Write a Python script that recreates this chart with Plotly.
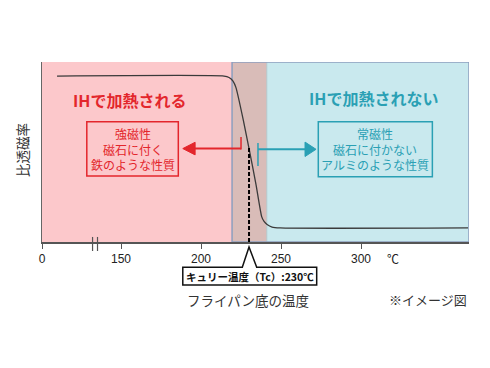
import plotly.graph_objects as go

# ---- data ----
temps = [110, 214.4, 217.5, 220.0, 221.9, 226.4, 230.2, 234.4, 237.9, 239.4, 241.3, 244.4, 249.4, 366.9]
permeability = [0.922, 0.922, 0.914, 0.894, 0.856, 0.678, 0.511, 0.317, 0.141, 0.114, 0.097, 0.083, 0.078, 0.078]
tick_vals = [100.6, 150, 200, 250, 300]
tick_text = ["0", "150", "200", "250", "300"]
curie_temp = 230
ferro_end = 219.4      # pink region end / blue region start
transition_end = 241.1  # brown overlap end
x_range = [100.6, 367.5]
break_marks = [132.2, 135.3]

JP = "Noto Sans CJK JP"
RED = "#e3262c"
TEAL = "#2aa0b4"

fig = go.Figure()
fig.add_trace(go.Scatter(x=temps, y=permeability, mode="lines",
                         line=dict(color="#3a3a3a", width=1.3, shape="spline", smoothing=0.5),
                         hoverinfo="skip", showlegend=False))

shapes = []
# regions
shapes.append(dict(type="rect", xref="x", yref="y", x0=x_range[0], x1=ferro_end, y0=0, y1=1,
                   fillcolor="#fcc8cb", line=dict(width=0), layer="below"))
shapes.append(dict(type="rect", xref="x", yref="y", x0=ferro_end, x1=x_range[1], y0=0, y1=1,
                   fillcolor="#c9e9ee", line=dict(width=0), layer="below"))
shapes.append(dict(type="rect", xref="x", yref="y", x0=ferro_end, x1=transition_end, y0=0, y1=1,
                   fillcolor="#d9bcb8", line=dict(width=0), layer="below"))
shapes.append(dict(type="line", xref="x", yref="y", x0=transition_end, x1=transition_end, y0=0, y1=1,
                   line=dict(color="#b9c8cc", width=1), layer="below"))
shapes.append(dict(type="rect", xref="x", yref="y", x0=ferro_end, x1=x_range[1], y0=0, y1=1,
                   fillcolor="rgba(0,0,0,0)", line=dict(color="#8d9fbf", width=1.5), layer="below"))

# text boxes
shapes.append(dict(type="rect", xref="x", yref="y", x0=128.6, x1=185.8, y0=0.367, y1=0.668,
                   line=dict(color=RED, width=1.5)))
shapes.append(dict(type="rect", xref="x", yref="y", x0=273.3, x1=344.6, y0=0.363, y1=0.668,
                   line=dict(color=TEAL, width=1.5)))

# red arrow
shapes.append(dict(type="line", xref="x", yref="y", x0=225.0, x1=225.0, y0=0.514, y1=0.583,
                   line=dict(color=RED, width=1.5)))
shapes.append(dict(type="line", xref="x", yref="y", x0=225.0, x1=195.0, y0=0.519, y1=0.519,
                   line=dict(color=RED, width=2)))
shapes.append(dict(type="path", xref="x", yref="y",
                   path="M 196.3,0.554 L 188.6,0.519 L 196.3,0.484 Z",
                   fillcolor=RED, line=dict(color=RED, width=1)))
# teal arrow
shapes.append(dict(type="line", xref="x", yref="y", x0=235.6, x1=235.6, y0=0.422, y1=0.55,
                   line=dict(color=TEAL, width=1.5)))
shapes.append(dict(type="line", xref="x", yref="y", x0=235.6, x1=265.5, y0=0.515, y1=0.515,
                   line=dict(color=TEAL, width=2)))
shapes.append(dict(type="path", xref="x", yref="y",
                   path="M 265,0.555 L 271.9,0.515 L 265,0.475 Z",
                   fillcolor=TEAL, line=dict(color=TEAL, width=1)))

# curie dashed line
shapes.append(dict(type="line", xref="x", yref="y", x0=curie_temp, x1=curie_temp, y0=0, y1=0.528,
                   line=dict(color="#000000", width=2, dash="4px,2px")))

# axis break marks
for b in break_marks:
    shapes.append(dict(type="line", xref="x", yref="paper", x0=b, x1=b, y0=0.028, y1=-0.05,
                       line=dict(color="#555555", width=1.2)))

# curie callout
shapes.append(dict(type="path", xref="x", yref="paper",
                   path="M 188.6,-0.1406 L 225.8,-0.1406 L 230,-0.028 L 234.8,-0.1406 "
                        "L 272.3,-0.1406 L 272.3,-0.239 L 188.6,-0.239 Z",
                   fillcolor="white", line=dict(color="#111111", width=1.5)))

def ann(x, y, text, size, color, xref="x", yref="y", **kw):
    return dict(x=x, y=y, xref=xref, yref=yref, text=text, showarrow=False,
                xanchor="center", yanchor="middle",
                font=dict(family=JP, size=size, color=color), **kw)

annotations = [
    ann(155.6, 0.789, "<b>IHで加熱される</b>", 16, RED),
    ann(308.1, 0.80, "<b>IHで加熱されない</b>", 16, TEAL),
    ann(157.2, 0.5175, "強磁性<br>磁石に付く<br>鉄のような性質", 12, RED),
    ann(309.0, 0.5155, "常磁性<br>磁石に付かない<br>アルミのような性質", 12, TEAL),
    ann(230.5, -0.19, "<b>キュリー温度（Tc）:230℃</b>", 10.5, "#111111", yref="paper"),
    ann(320.2, -0.089, "℃", 12, "#222222", yref="paper"),
    ann(229.5, -0.322, "フライパン底の温度", 13.5, "#333333", yref="paper"),
    ann(341.6, -0.322, "※イメージ図", 13, "#333333", yref="paper"),
    ann(-0.047, 0.511, "比透磁率", 13.5, "#333333", xref="paper", yref="paper", textangle=-90),
]

# page body has an 8px default margin, so offset plot margins accordingly
fig.update_layout(
    width=490, height=368,
    margin=dict(l=34, r=29, t=54, b=134),
    paper_bgcolor="white", plot_bgcolor="white",
    shapes=shapes, annotations=annotations, showlegend=False,
    xaxis=dict(range=x_range, tickvals=tick_vals, ticktext=tick_text, showgrid=False, zeroline=False,
               showline=True, linecolor="#555555", linewidth=1.5, ticks="outside", ticklen=5,
               tickcolor="#555555", tickfont=dict(family="Liberation Sans", size=12, color="#222222")),
    yaxis=dict(range=[0, 1], showgrid=False, zeroline=False, showticklabels=False,
               showline=True, linecolor="#666666", linewidth=1.2, ticks=""),
)

fig.write_html("out.html")
